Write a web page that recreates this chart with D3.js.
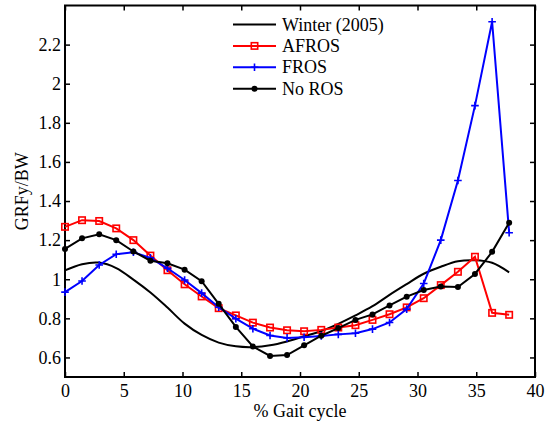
<!DOCTYPE html>
<html>
<head>
<meta charset="utf-8">
<script src="https://cdn.jsdelivr.net/npm/d3@7"></script>
<style>
  body { margin: 0; background: #fff; }
</style>
</head>
<body>
<div id="chart"></div>
<script>
// % gait cycle sample positions
let gait = [0, 1.45, 2.91, 4.36, 5.82, 7.27, 8.72, 10.18, 11.63, 13.08, 14.54, 15.99, 17.45,
    18.9, 20.35, 21.81, 23.26, 24.72, 26.17, 27.62, 29.08, 30.53, 31.98, 33.44, 34.89, 36.35, 37.8];

let winter = [1.045, 1.077, 1.085, 1.057, 0.998, 0.932, 0.855, 0.773, 0.715, 0.676, 0.657, 0.653, 0.662,
    0.682, 0.708, 0.735, 0.772, 0.815, 0.862, 0.92, 0.975, 1.028, 1.064, 1.092, 1.097, 1.084, 1.035];

let afros = [1.268, 1.302, 1.298, 1.26, 1.2, 1.121, 1.046, 0.974, 0.912, 0.852, 0.815, 0.778, 0.753,
    0.739, 0.734, 0.741, 0.753, 0.765, 0.792, 0.821, 0.856, 0.903, 0.97, 1.038, 1.115, 0.828, 0.818];

let fros = [0.934, 0.991, 1.073, 1.128, 1.138, 1.109, 1.056, 0.996, 0.929, 0.857, 0.798, 0.747, 0.712,
    0.7, 0.703, 0.71, 0.718, 0.724, 0.745, 0.779, 0.847, 0.978, 1.2, 1.505, 1.888, 2.317, 1.238];

let noRos = [1.155, 1.209, 1.23, 1.2, 1.142, 1.095, 1.082, 1.049, 0.99, 0.874, 0.756, 0.656, 0.608,
    0.612, 0.662, 0.711, 0.75, 0.792, 0.82, 0.866, 0.911, 0.945, 0.963, 0.96, 1.027, 1.14, 1.289];

let xTicks = [0, 5, 10, 15, 20, 25, 30, 35, 40];
let yTicks = [0.6, 0.8, 1, 1.2, 1.4, 1.6, 1.8, 2, 2.2];

let seriesList = [
    {name: "Winter (2005)", values: winter, color: "#000", marker: "none", smooth: true},
    {name: "AFROS", values: afros, color: "#ff0000", marker: "square"},
    {name: "FROS", values: fros, color: "#0000ff", marker: "plus"},
    {name: "No ROS", values: noRos, color: "#000", marker: "dot"}
];

let FONT = "'Liberation Serif', 'Times New Roman', 'DejaVu Serif', serif";

let margin = {top: 5.5, right: 16, bottom: 45, left: 65};
let width = 551 - margin.left - margin.right;
let height = 422 - margin.top - margin.bottom;

let svg = d3.select("#chart").append("svg")
    .attr("width", 551)
    .attr("height", 422)
    .style("font-family", FONT)
    .append("g")
    .attr("transform", "translate(" + margin.left + "," + margin.top + ")");

let x = d3.scaleLinear().domain([0, 40]).range([0, width]);
let y = d3.scaleLinear().domain([0.5, 2.4]).range([height, 0]);

// axes, ticks pointing inward like matlab
let xAxis = svg.append("g")
    .attr("transform", "translate(0," + height + ")")
    .call(d3.axisBottom(x).tickValues(xTicks).tickSizeInner(-5).tickSizeOuter(0).tickPadding(7));
let yAxis = svg.append("g")
    .call(d3.axisLeft(y).tickValues(yTicks).tickSizeInner(-5).tickSizeOuter(0).tickPadding(4)
        .tickFormat(d3.format("~g")));
let xTop = svg.append("g")
    .call(d3.axisTop(x).tickValues(xTicks).tickSizeInner(-5).tickSizeOuter(0).tickFormat(""));
let yRight = svg.append("g")
    .attr("transform", "translate(" + width + ",0)")
    .call(d3.axisRight(y).tickValues(yTicks).tickSizeInner(-5).tickSizeOuter(0).tickFormat(""));

[xAxis, yAxis, xTop, yRight].forEach(a => {
    a.attr("font-family", null).attr("font-size", null);
    a.select(".domain").remove();
    a.selectAll(".tick line").attr("stroke", "#000").attr("stroke-width", 1.5);
});

// box
svg.append("rect")
    .attr("width", width)
    .attr("height", height)
    .attr("fill", "none")
    .attr("stroke", "#000")
    .attr("stroke-width", 2);

// axis titles
svg.append("text")
    .attr("class", "label")
    .attr("x", width / 2)
    .attr("y", height + 39.5)
    .attr("text-anchor", "middle")
    .text("% Gait cycle");

svg.append("text")
    .attr("class", "label")
    .attr("transform", "translate(" + (28 - margin.left) + "," + (height / 2) + ") rotate(-90)")
    .attr("text-anchor", "middle")
    .text("GRFy/BW");

function drawMarker(g, type, color) {
    if (type === "square") {
        g.append("rect").attr("x", -3.2).attr("y", -3.2).attr("width", 6.4).attr("height", 6.4)
            .attr("fill", "none").attr("stroke", color).attr("stroke-width", 1.6);
    } else if (type === "plus") {
        g.append("path").attr("d", "M-3.8,0H3.8M0,-3.8V3.8")
            .attr("stroke", color).attr("stroke-width", 1.6);
    } else if (type === "dot") {
        g.append("circle").attr("r", 3).attr("fill", color);
    }
}

// lines
seriesList.forEach(s => {
    let pts = gait.map((g, i) => ({x: g, y: s.values[i]}));
    let line = d3.line()
        .x(d => x(d.x))
        .y(d => y(d.y))
        .curve(s.smooth ? d3.curveCatmullRom.alpha(0.5) : d3.curveLinear);

    svg.append("path")
        .datum(pts)
        .attr("d", line)
        .attr("fill", "none")
        .attr("stroke", s.color)
        .attr("stroke-width", 2);

    if (s.marker !== "none") {
        svg.append("g").selectAll("g")
            .data(pts)
            .join("g")
            .attr("transform", d => "translate(" + x(d.x) + "," + y(d.y) + ")")
            .each(function () { drawMarker(d3.select(this), s.marker, s.color); });
    }
});

// legend
let legend = svg.append("g")
    .attr("transform", "translate(" + (233 - margin.left) + "," + (24.5 - margin.top) + ")");

seriesList.forEach((s, i) => {
    let row = legend.append("g").attr("transform", "translate(0," + (i * 21.4) + ")");
    row.append("line")
        .attr("x1", 0).attr("x2", 43)
        .attr("stroke", s.color)
        .attr("stroke-width", 2);
    let m = row.append("g").attr("transform", "translate(21.5,0)");
    drawMarker(m, s.marker, s.color);
    row.append("text")
        .attr("x", 49)
        .attr("dy", "0.34em")
        .text(s.name);
});

svg.selectAll("text")
    .style("font-family", FONT)
    .style("font-size", "18px")
    .attr("fill", "#000");
</script>
</body>
</html>
